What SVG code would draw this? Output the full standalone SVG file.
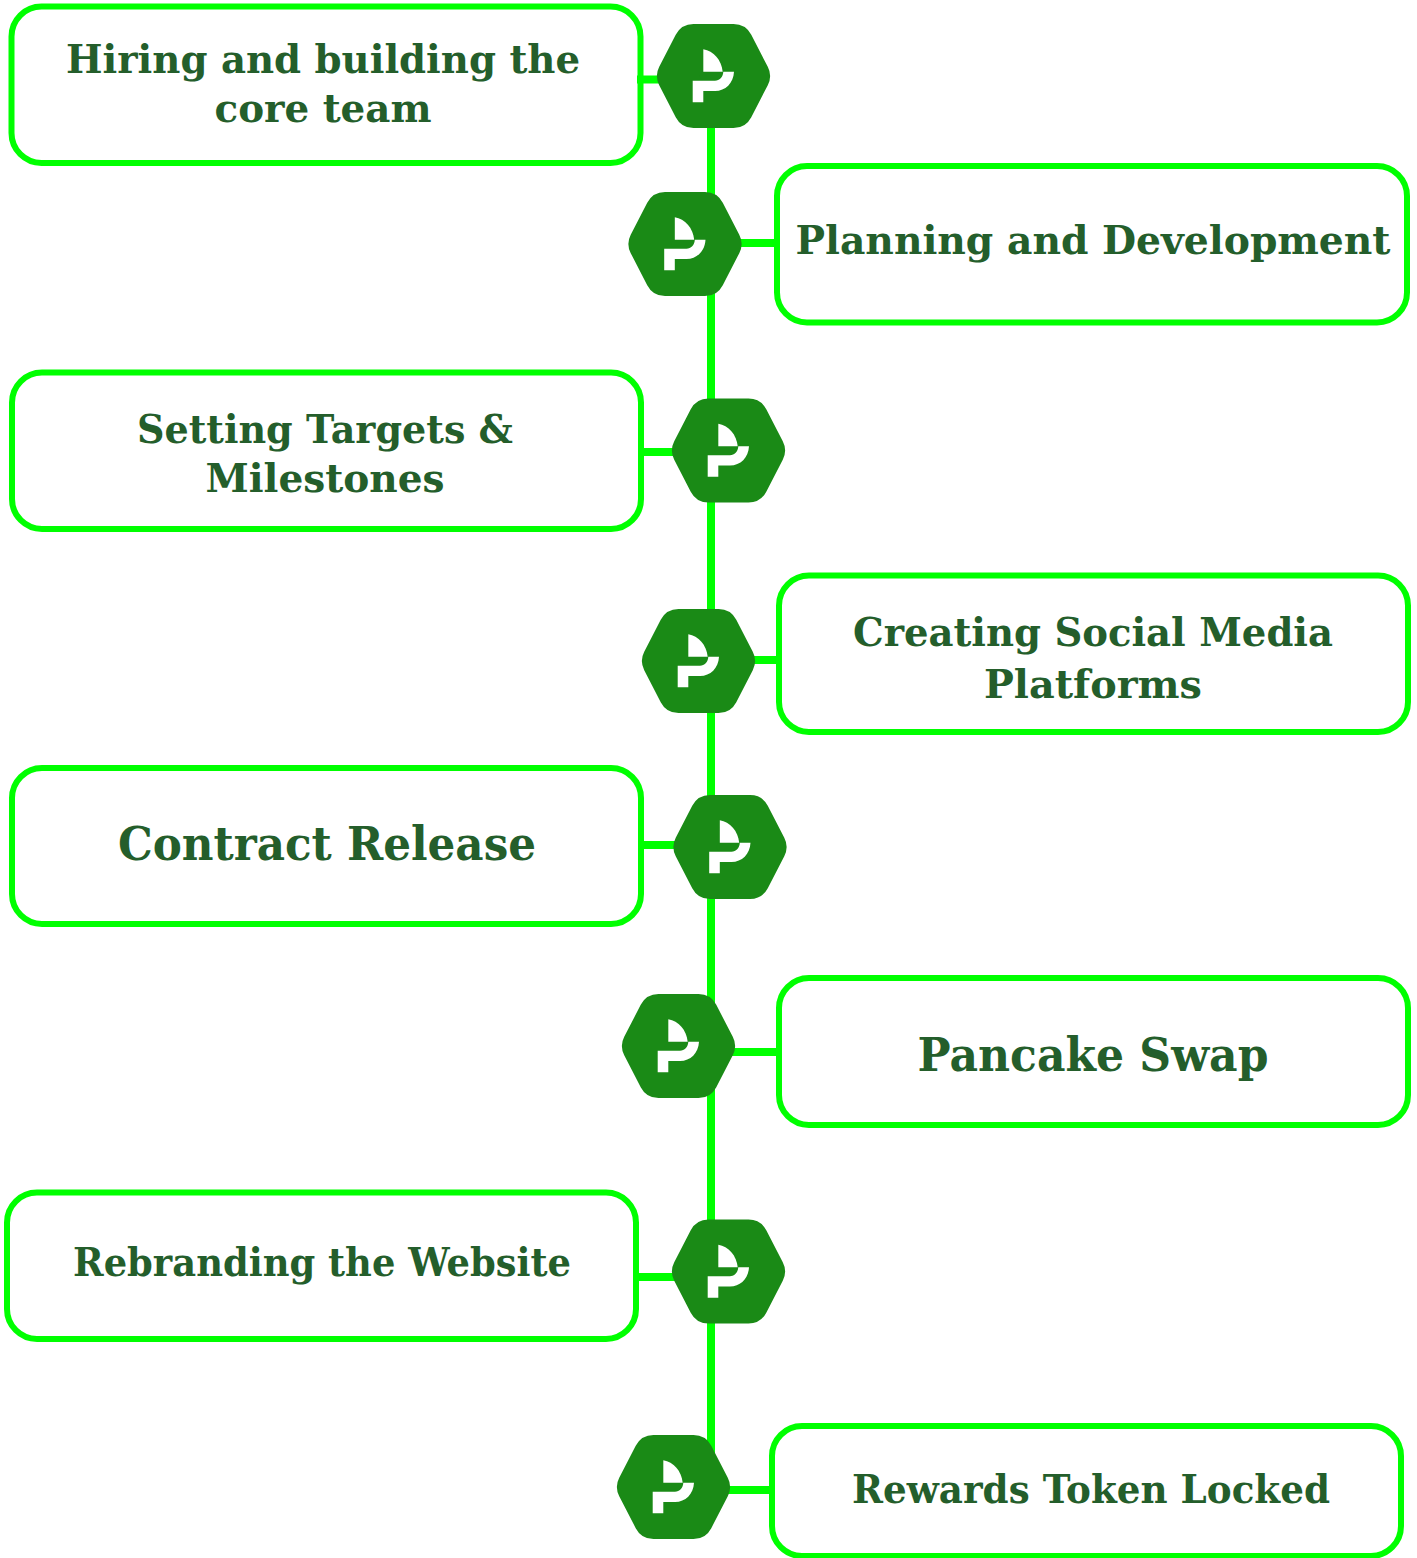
<svg xmlns="http://www.w3.org/2000/svg" width="1417" height="1558" viewBox="0 0 1417 1558">
<style>
.card{fill:#fff;stroke:#00ff00;stroke-width:6}
.line{stroke:#00ff00;stroke-width:8;fill:none}
.hex{fill:#1a8a16;stroke:#1a8a16;stroke-width:40;stroke-linejoin:round}
.glyph{fill:#fff}
text{font-family:"DejaVu Serif","Liberation Serif",serif;font-weight:700;fill:#245e2b;text-anchor:middle}
.m{font-size:40px}
.l{font-size:46px}
</style>
<defs>
<g id="badge">
<polygon class="hex" points="-36.500,0 -20,-32 20,-32 36.500,0 20,32 -20,32"/>
<path class="glyph" d="M-10.200,-26.700C0,-25 8,-16 9.200,-4.300H-10.200Z"/>
<path class="glyph" d="M20.500,-4.300C20,7 12,15 1.500,15H-10.200V26.300H-20.800V4.700H1.500C6,4.700 9.500,1 9.800,-4.300Z"/>
</g>
</defs>
<g id="node1"><rect class="card" x="11.500" y="6.500" width="629" height="156.500" rx="30"/><text class="m" x="323" y="72.500" textLength="514" lengthAdjust="spacingAndGlyphs">Hiring and building the</text><text class="m" x="323" y="121.500" textLength="217" lengthAdjust="spacingAndGlyphs">core team</text></g>
<g id="node2"><rect class="card" x="777" y="166" width="630" height="156.500" rx="30"/><text class="m" x="1093" y="254" textLength="595" lengthAdjust="spacingAndGlyphs">Planning and Development</text></g>
<g id="node3"><rect class="card" x="12" y="372.500" width="629" height="156.500" rx="30"/><text class="m" x="325" y="443" textLength="376" lengthAdjust="spacingAndGlyphs">Setting Targets &amp;</text><text class="m" x="325" y="492" textLength="239" lengthAdjust="spacingAndGlyphs">Milestones</text></g>
<g id="node4"><rect class="card" x="779" y="575.500" width="629" height="156.500" rx="30"/><text class="m" x="1093" y="646" textLength="480" lengthAdjust="spacingAndGlyphs">Creating Social Media</text><text class="m" x="1093" y="698" textLength="218" lengthAdjust="spacingAndGlyphs">Platforms</text></g>
<g id="node5"><rect class="card" x="12" y="768" width="629" height="156" rx="30"/><text class="l" x="327" y="859.500" textLength="418" lengthAdjust="spacingAndGlyphs">Contract Release</text></g>
<g id="node6"><rect class="card" x="779" y="978" width="629" height="147" rx="30"/><text class="l" x="1093" y="1070.500" textLength="351" lengthAdjust="spacingAndGlyphs">Pancake Swap</text></g>
<g id="node7"><rect class="card" x="7" y="1192.500" width="629" height="146.500" rx="30"/><text class="m" x="322" y="1276" textLength="498" lengthAdjust="spacingAndGlyphs">Rebranding the Website</text></g>
<g id="node8"><rect class="card" x="772" y="1426" width="629" height="130" rx="30"/><text class="m" x="1091" y="1503" textLength="478" lengthAdjust="spacingAndGlyphs">Rewards Token Locked</text></g>
<g id="connectors">
<path class="line" d="M711,100V1470"/>
<path class="line" d="M637,79.500H670"/>
<path class="line" d="M730,243H775"/>
<path class="line" d="M638,452H690"/>
<path class="line" d="M740,660H777"/>
<path class="line" d="M640,845H690"/>
<path class="line" d="M720,1052H777"/>
<path class="line" d="M634,1277H690"/>
<path class="line" d="M715,1490H770"/>
</g>
<g id="badge1"><use href="#badge" x="713.500" y="76"/></g>
<g id="badge2"><use href="#badge" x="685" y="244"/></g>
<g id="badge3"><use href="#badge" x="728.500" y="450.500"/></g>
<g id="badge4"><use href="#badge" x="698.500" y="661"/></g>
<g id="badge5"><use href="#badge" x="730" y="847"/></g>
<g id="badge6"><use href="#badge" x="678.500" y="1046"/></g>
<g id="badge7"><use href="#badge" x="728.500" y="1271.500"/></g>
<g id="badge8"><use href="#badge" x="673.500" y="1487"/></g>
</svg>
